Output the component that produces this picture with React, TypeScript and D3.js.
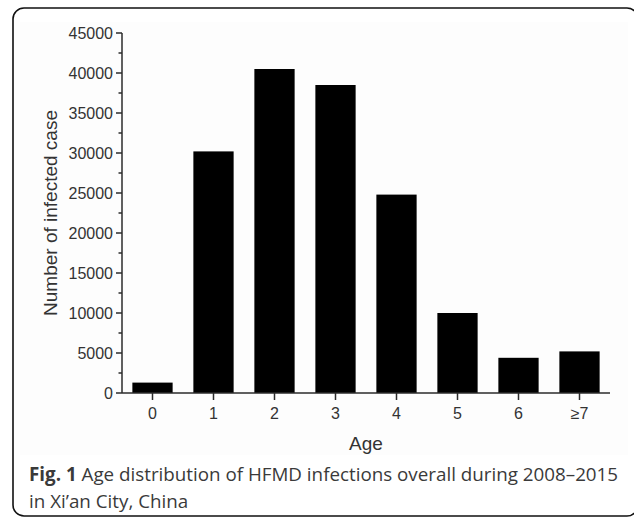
import React from 'react';
import * as d3 from 'd3';

// ages and infected case counts
const ages = ['0', '1', '2', '3', '4', '5', '6', '≥7'];
const cases = [1300, 30200, 40500, 38500, 24800, 10000, 4400, 5200];
const majorTicks = [0, 5000, 10000, 15000, 20000, 25000, 30000, 35000, 40000, 45000];
const minorTicks = [2500, 7500, 12500, 17500, 22500, 27500, 32500, 37500, 42500];

const W = 634;
const H = 525;
const axisFont = '"Liberation Sans", Arial, sans-serif';
const axisColor = '#2b2b2b';

export default function App() {
  const x = d3.scaleBand<string>()
    .domain(ages)
    .range([122, 610])
    .paddingInner(0.34)
    .paddingOuter(0.17);
  const y = d3.scaleLinear().domain([0, 45000]).range([393, 33]);

  const x0 = x.range()[0];
  const x1 = x.range()[1];
  const yBase = y(0);

  return (
    <svg width={W} height={H} style={{ position: 'absolute', left: 0, top: 0, background: '#fff' }}>

      {/* figure frame */}
      <rect x={13} y={8} width={625} height={508} rx={11} ry={11} fill='#fff' stroke='#111' strokeWidth={1.6} />
      <rect x={20} y={22} width={608} height={433} fill='#fdfdfd' />

      {/* bars */}
      <g>
        {ages.map((a, i) => (
          <rect
            key={a}
            x={x(a)}
            y={y(cases[i])}
            width={x.bandwidth()}
            height={yBase - y(cases[i])}
            fill='#000'
          />
        ))}
      </g>

      {/* y axis */}
      <g stroke={axisColor} strokeWidth={1.5}>
        <line x1={x0} x2={x0} y1={y(45000)} y2={yBase} />
        {majorTicks.map(t => (
          <line key={t} x1={x0 - 6} x2={x0} y1={y(t)} y2={y(t)} />
        ))}
        {minorTicks.map(t => (
          <line key={t} x1={x0 - 3.5} x2={x0} y1={y(t)} y2={y(t)} />
        ))}
      </g>
      <g fontFamily={axisFont} fontSize={16} fill='#333' textAnchor='end'>
        {majorTicks.map(t => (
          <text key={t} x={x0 - 9} y={y(t)} dy='0.35em'>{t}</text>
        ))}
      </g>
      <text
        transform={`translate(57, ${(y(45000) + yBase) / 2}) rotate(-90)`}
        textAnchor='middle'
        fontFamily={axisFont}
        fontSize={19}
        fill='#333'
      >Number of infected case</text>

      {/* x axis */}
      <g stroke={axisColor} strokeWidth={1.5}>
        <line x1={x0} x2={x1} y1={yBase} y2={yBase} />
        {ages.map(a => {
          const cx = (x(a) as number) + x.bandwidth() / 2;
          return <line key={a} x1={cx} x2={cx} y1={yBase} y2={yBase + 7} />;
        })}
      </g>
      <g fontFamily={axisFont} fontSize={16} fill='#333' textAnchor='middle'>
        {ages.map(a => (
          <text key={a} x={(x(a) as number) + x.bandwidth() / 2} y={419}>{a}</text>
        ))}
      </g>
      <text x={(x0 + x1) / 2} y={450} textAnchor='middle' fontFamily={axisFont} fontSize={19} fill='#333'>Age</text>

      {/* caption */}
      <g fontFamily='"Open Sans", "Noto Sans", sans-serif' fontSize={18.8} fill='#3a3a3a'>
        <text x={29} y={481}>
          <tspan fontWeight='bold'>Fig. 1</tspan>
          <tspan> Age distribution of HFMD infections overall during 2008–2015</tspan>
        </text>
        <text x={29} y={508}>in Xi’an City, China</text>
      </g>
    </svg>
  );
}
